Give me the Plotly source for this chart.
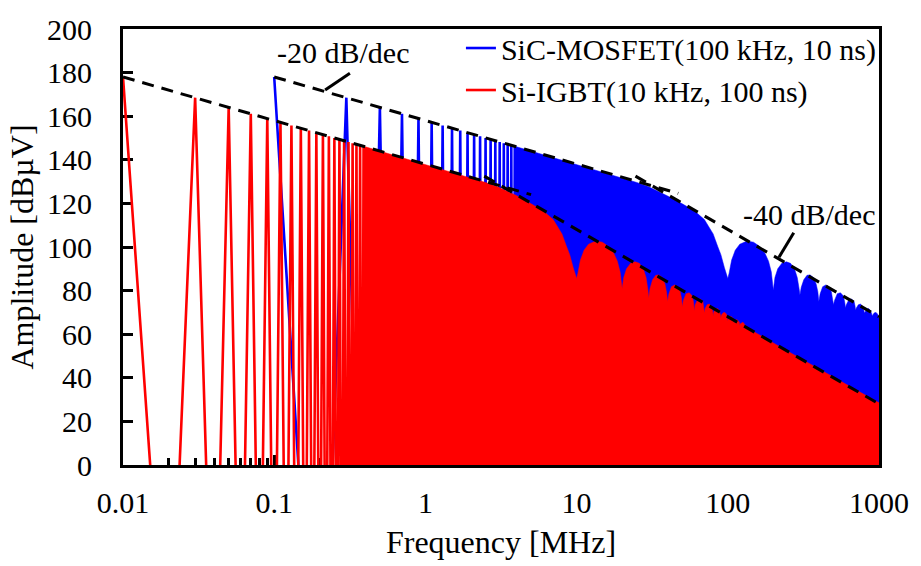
import math
import plotly.graph_objects as go

# ---------------- data ----------------
# Si-IGBT (10 kHz, 100 ns): individual harmonics in the sparse low-frequency part
red_spike_f = [0.01, 0.02, 0.03, 0.04, 0.05, 0.06, 0.07, 0.08, 0.09, 0.10,
               0.11, 0.12, 0.13, 0.14, 0.15, 0.16, 0.17, 0.18, 0.19, 0.20,
               0.21, 0.22, 0.23, 0.24, 0.25, 0.26, 0.27, 0.28, 0.29, 0.30,
               0.31, 0.32, 0.33, 0.34, 0.35, 0.36, 0.37, 0.38, 0.39, 0.40]
red_spike_db = [178.0, -120, 168.5, -120, 164.0, -120, 161.1, -120, 159.0, -120,
                157.2, -120, 155.7, -120, 154.5, -120, 153.4, -120, 152.4, -120,
                151.6, -120, 150.8, -120, 150.0, -120, 149.4, -120, 148.7, -120,
                148.2, -120, 147.6, -120, 147.0, -120, 146.6, -120, 146.2, -120]

# Si-IGBT: envelope of the dense harmonic region (area filled down to 0)
red_env_f = [0.39, 0.5, 0.7, 1.0, 1.5, 2.0, 2.5, 3.0, 3.5, 4.0, 5.0, 6.0, 7.0, 8.0, 8.6, 9.0, 9.5, 9.8,
             10.0, 10.2, 10.6, 11.2, 12.0, 13.4, 14.8, 16.2, 17.5, 18.6, 19.4,
             20.0, 20.5, 21.4, 22.8, 24.4, 26.0, 27.6, 28.8, 29.6,
             30.0, 30.6, 31.8, 33.4, 35.0, 36.8, 38.4, 39.4,
             40.0, 40.8, 42.4, 44.5, 46.6, 48.4, 49.4,
             50.0, 50.8, 53.0, 55.6, 58.2, 59.4,
             60.0, 60.8, 63.2, 65.8, 68.4, 69.4,
             70.0, 70.8, 73.0, 75.4, 78.0, 79.4,
             80.0, 80.8, 83.0, 85.2, 87.6, 89.4,
             90.0, 90.8, 93.2, 95.6, 98.0,
             100.0, 101.0, 105.0, 109.0, 110.0, 111.0, 115.0, 119.0, 120.0, 121.0, 126.0, 130.0,
             140.0, 160.0, 200.0, 300.0, 500.0, 700.0, 1000.0]
red_env_db = [146.2, 144.0, 141.1, 138.0, 134.4, 131.8, 129.6, 127.6, 125.6, 123.6, 119.8, 116.6, 112.6, 106.0, 100.0, 96.5, 90.5, 87.0,
              85.5, 88.0, 94.0, 98.5, 101.3, 102.7, 102.2, 100.3, 97.5, 93.5, 88.5,
              81.0, 86.0, 90.0, 92.6, 93.2, 92.5, 90.0, 86.0, 80.5,
              76.5, 81.0, 85.0, 87.0, 87.2, 86.0, 83.0, 79.0,
              75.0, 78.5, 81.8, 82.6, 81.8, 79.5, 76.5,
              72.5, 75.5, 78.6, 79.0, 77.5, 74.5,
              70.7, 73.5, 75.8, 76.2, 75.0, 72.5,
              69.7, 71.8, 73.5, 73.8, 72.8, 70.5,
              68.2, 70.2, 71.5, 71.8, 71.0, 68.8,
              67.4, 68.8, 69.8, 70.0, 69.2,
              66.0, 67.2, 68.2, 67.0, 65.0, 66.0, 66.7, 65.6, 64.0, 64.8, 65.5, 64.2,
              62.2, 59.8, 56.0, 49.0, 40.2, 34.5, 28.5]

# SiC-MOSFET (100 kHz, 10 ns): individual harmonics in the sparse part
blue_spike_f = [0.1, 0.2, 0.3, 0.4, 0.5, 0.6, 0.7, 0.8, 0.9, 1.0,
                1.1, 1.2, 1.3, 1.4, 1.5, 1.6, 1.7, 1.8, 1.9, 2.0,
                2.1, 2.2, 2.3, 2.4, 2.5, 2.6, 2.7, 2.8, 2.9, 3.0,
                3.1, 3.2, 3.3, 3.4, 3.5, 3.6, 3.7, 3.8, 3.9, 4.0]
blue_spike_db = [178.0, -157, 168.5, -157, 164.0, -157, 161.1, -157, 159.0, -157,
                 157.2, -157, 155.7, -157, 154.5, -157, 153.4, -157, 152.4, -157,
                 151.6, -157, 150.8, -157, 150.0, -157, 149.4, -157, 148.7, -157,
                 148.2, -157, 147.6, -157, 147.0, -157, 146.6, -157, 146.2, -157]

# SiC-MOSFET: envelope of the dense harmonic region
blue_env_f = [3.9, 5, 7, 10, 15, 20, 25, 30, 35, 40, 50, 60, 70, 80, 86, 90, 95, 98,
              100, 102, 106, 112, 120, 134, 148, 162, 175, 186, 194,
              200, 205, 214, 228, 244, 260, 276, 288, 296,
              300, 306, 318, 334, 350, 368, 384, 394,
              400, 408, 424, 445, 466, 484, 494,
              500, 508, 530, 556, 582, 594,
              600, 608, 632, 658, 684, 694,
              700, 708, 730, 754, 780, 794,
              800, 808, 830, 852, 876, 894,
              900, 908, 932, 956, 980, 1000]
blue_env_db = [146.2, 144.0, 141.1, 138.0, 134.4, 131.8, 129.6, 127.6, 125.4, 123.4, 119.8, 116.6, 112.6, 106.0, 100.0, 96.5, 90.5, 87.0,
               85.5, 88.0, 94.0, 98.5, 101.3, 102.7, 102.2, 100.3, 97.5, 93.5, 88.5,
               80.2, 86.0, 90.0, 92.6, 93.2, 92.5, 90.0, 86.0, 81.0,
               78.0, 81.5, 85.0, 87.0, 87.2, 86.0, 83.0, 79.5,
               75.0, 78.5, 81.8, 82.6, 81.8, 79.5, 76.5,
               73.5, 75.5, 78.6, 79.0, 77.5, 74.5,
               72.0, 73.5, 75.8, 76.2, 75.0, 73.0,
               71.0, 72.0, 73.5, 73.8, 72.8, 71.0,
               69.7, 70.2, 71.5, 71.8, 71.0, 69.5,
               68.2, 68.8, 69.8, 70.0, 69.2, 67.4]

# asymptote lines (dashed): -20 dB/dec and -40 dB/dec
red20_f, red20_db = [0.01, 5.0], [178.0, 124.0]
red40_f, red40_db = [2.45, 1000.0], [132.5, 28.0]
blue20_f, blue20_db = [0.1, 47.0], [178.0, 124.6]
blue40_f, blue40_db = [24.5, 1000.0], [132.5, 68.0]

# annotation leader lines and labels
lead20_f, lead20_db = [0.3167, 0.2172], [179.7, 172.0]
lead40_f, lead40_db = [273.0, 218.0], [106.5, 95.3]
label20 = ("-20 dB/dec", 0.285, 189.0)
label40 = ("-40 dB/dec", 345.0, 115.0)

legend_names = ["SiC-MOSFET(100 kHz, 10 ns)", "Si-IGBT(10 kHz, 100 ns)"]

# ---------------- style ----------------
BLUE = "#0000FF"
RED = "#FF0000"
FONT = "Liberation Serif, Times New Roman, serif"
FS = 30
FS_TITLE = 32

fig = go.Figure()

fig.add_trace(go.Scatter(x=blue_env_f, y=blue_env_db, mode="lines", fill="tozeroy",
                         fillcolor=BLUE, line=dict(color=BLUE, width=0.5),
                         showlegend=False, hoverinfo="skip"))
fig.add_trace(go.Scatter(x=blue_spike_f, y=blue_spike_db, mode="lines",
                         line=dict(color=BLUE, width=2.6), name=legend_names[0]))
fig.add_trace(go.Scatter(x=red_env_f, y=red_env_db, mode="lines", fill="tozeroy",
                         fillcolor=RED, line=dict(color=RED, width=0.5),
                         showlegend=False, hoverinfo="skip"))
fig.add_trace(go.Scatter(x=red_spike_f, y=red_spike_db, mode="lines",
                         line=dict(color=RED, width=2.6), name=legend_names[1]))

for fx, fy in [(red20_f, red20_db), (red40_f, red40_db), (blue20_f, blue20_db), (blue40_f, blue40_db)]:
    fig.add_trace(go.Scatter(x=fx, y=fy, mode="lines", showlegend=False, hoverinfo="skip",
                             line=dict(color="black", width=3, dash="12px,8px")))
for fx, fy in [(lead20_f, lead20_db), (lead40_f, lead40_db)]:
    fig.add_trace(go.Scatter(x=fx, y=fy, mode="lines", showlegend=False, hoverinfo="skip",
                             line=dict(color="black", width=3)))

for txt, fx, fy in [label20, label40]:
    fig.add_annotation(x=math.log10(fx), y=fy, xref="x", yref="y", text=txt, showarrow=False,
                       font=dict(family=FONT, size=FS, color="black"),
                       xanchor="center", yanchor="middle")

fig.update_layout(
    width=921, height=566,
    margin=dict(l=123, r=35, t=22, b=100),
    paper_bgcolor="white", plot_bgcolor="white",
    font=dict(family=FONT, size=FS, color="black"),
    showlegend=True,
    legend=dict(x=0.447, y=1.016, xanchor="left", yanchor="top",
                bgcolor="rgba(0,0,0,0)", font=dict(family=FONT, size=FS, color="black"),
                tracegroupgap=0, itemwidth=30),
)

fig.update_xaxes(
    type="log", range=[-2, 3], dtick=1,
    tickvals=[0.01, 0.1, 1, 10, 100, 1000], ticktext=["0.01", "0.1", "1", "10", "100", "1000"],
    showgrid=False, zeroline=False,
    showline=True, linecolor="black", linewidth=3, mirror=True,
    ticks="inside", ticklen=10, tickwidth=3, tickcolor="black",
    minor=dict(ticks="inside", ticklen=7, tickwidth=3, tickcolor="black", dtick="D1", showgrid=False),
    ticklabelstandoff=9,
    layer="below traces",
    title=dict(text="Frequency [MHz]", font=dict(family=FONT, size=FS_TITLE), standoff=13),
)
fig.update_yaxes(
    range=[0, 200], dtick=20,
    showgrid=False, zeroline=False,
    showline=True, linecolor="black", linewidth=3, mirror=True,
    ticks="inside", ticklen=10, tickwidth=3, tickcolor="black",
    ticklabelstandoff=22,
    layer="below traces",
    title=dict(text="Amplitude [dBµV]", font=dict(family=FONT, size=FS_TITLE), standoff=4),
)

fig.write_html("out.html")
